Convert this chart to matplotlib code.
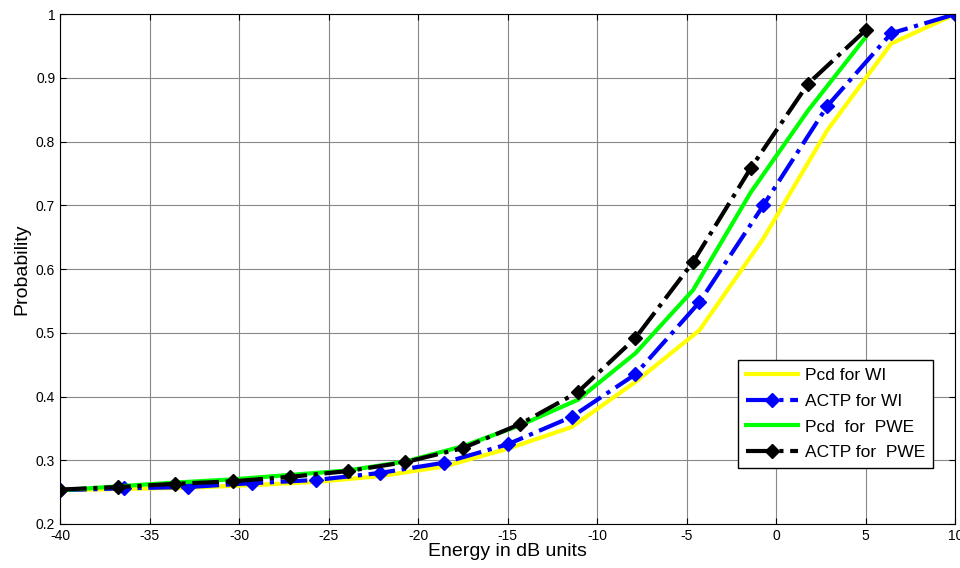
import numpy as np
import matplotlib
matplotlib.use('Agg')
import matplotlib.pyplot as plt

plt.rcParams['font.family'] = ['Liberation Sans', 'DejaVu Sans']

# Данные
energy_wi = np.linspace(-40, 10, 15)
energy_pwe = np.linspace(-40, 5, 15)

pcd_wi = [0.253, 0.255, 0.257, 0.261, 0.266, 0.275, 0.290, 0.318, 0.352,
          0.423, 0.504, 0.648, 0.818, 0.954, 1.000]
actp_wi = [0.253, 0.256, 0.258, 0.264, 0.269, 0.280, 0.296, 0.325, 0.368,
           0.435, 0.548, 0.700, 0.856, 0.970, 1.000]
pcd_pwe = [0.253, 0.259, 0.265, 0.270, 0.277, 0.284, 0.298, 0.322, 0.355,
           0.395, 0.468, 0.567, 0.720, 0.849, 0.964]
actp_pwe = [0.254, 0.258, 0.263, 0.267, 0.274, 0.283, 0.297, 0.319, 0.357,
            0.407, 0.492, 0.611, 0.758, 0.891, 0.975]

x_ticks = np.arange(-40, 11, 5)
y_ticks = np.round(np.arange(0.2, 1.01, 0.1), 1)

fig = plt.figure(figsize=(9.6, 5.68), dpi=100)
ax = fig.add_axes([0.0625, 0.0775, 0.9325, 0.8975])

ax.plot(energy_wi, pcd_wi, color='yellow', lw=3, label='Pcd for WI')
ax.plot(energy_wi, actp_wi, color='blue', lw=3, linestyle='-.', marker='D',
        markersize=7.5, label='ACTP for WI')
ax.plot(energy_pwe, pcd_pwe, color='#00ff00', lw=3, label='Pcd  for  PWE')
ax.plot(energy_pwe, actp_pwe, color='black', lw=3, linestyle='-.', marker='D',
        markersize=7.5, label='ACTP for  PWE')

ax.set_xlim(-40, 10)
ax.set_ylim(0.2, 1)
ax.set_xticks(x_ticks)
ax.set_yticks(y_ticks)
ax.set_xticklabels([str(v) for v in x_ticks])
ax.set_yticklabels(['%g' % v for v in y_ticks])
ax.tick_params(direction='in', top=True, right=True, labelsize=10, length=4)
ax.grid(True, color='#888888', linewidth=0.8)

ax.set_xlabel('Energy in dB units', fontsize=14, labelpad=0)
ax.set_ylabel('Probability', fontsize=14, labelpad=4)

leg = ax.legend(loc='lower right', bbox_to_anchor=(0.975, 0.11), fontsize=12.5,
                fancybox=False, framealpha=1, edgecolor='black',
                handlelength=3.0, handletextpad=0.4, borderpad=0.45,
                labelspacing=0.6, borderaxespad=0)
leg.get_frame().set_linewidth(1)

plt.savefig('out.png', dpi=100)
